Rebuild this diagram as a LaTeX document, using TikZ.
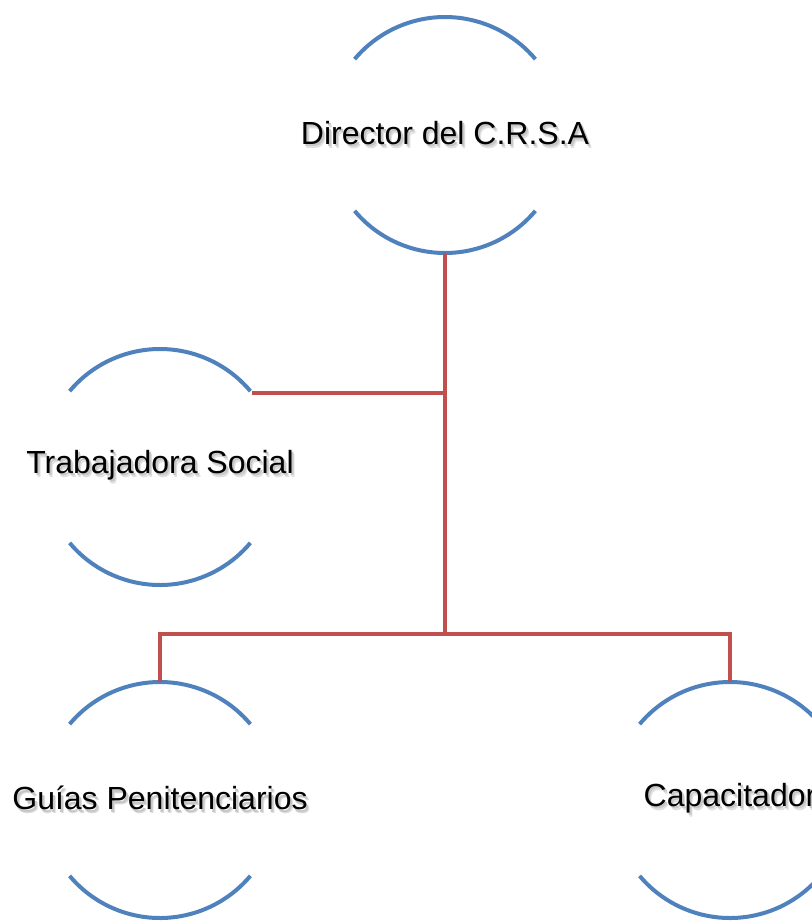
\documentclass[tikz,border=0pt]{standalone}
\usepackage{fontspec}
\setmainfont{Liberation Sans}
\definecolor{arcblue}{HTML}{4F81BD}
\definecolor{linkred}{HTML}{C0504D}
\newcommand\shadowed[1]{\makebox[0pt][l]{\hspace{3pt}\raisebox{-4pt}{\color{black!12}#1}}\makebox[0pt][l]{\hspace{2pt}\raisebox{-2.5pt}{\color{black!22}#1}}#1}
\begin{document}
\begin{tikzpicture}[x=1pt,y=-1pt,
  unit/.style={circle,minimum size=236pt,inner sep=0pt,outer sep=0pt,
    font=\fontsize{32}{38}\selectfont},
  arcline/.style={draw=arcblue,line width=4pt},
  link/.style={draw=linkred,line width=4pt}]
\useasboundingbox (0,0) rectangle (812,922);
\clip (0,0) rectangle (812,922);
\node[unit] (d) at (445,135) {\makebox[0pt]{\shadowed{Director del C.R.S.A}}};
\node[unit] (t) at (160,467) {\makebox[0pt]{\shadowed{Trabajadora Social}}};
\node[unit] (g) at (160,800) {\makebox[0pt]{\shadowed{Guías Penitenciarios}}};
\node[unit] (c) at (730,800) {\makebox[0pt]{\shadowed{Capacitador}}};
\foreach \n in {d,t,g,c}{
  \draw[arcline] (\n.140) arc (140:40:118pt);
  \draw[arcline] (\n.220) arc (220:320:118pt);
}
\coordinate (j) at (445,634);
\draw[link] (d.south) -- (j);
\draw[link] (t.39) -- (t.39 -| d.south);
\draw[link] (g.north) -- (g.north |- j) -- (c.north |- j) -- (c.north);
\end{tikzpicture}
\end{document}
